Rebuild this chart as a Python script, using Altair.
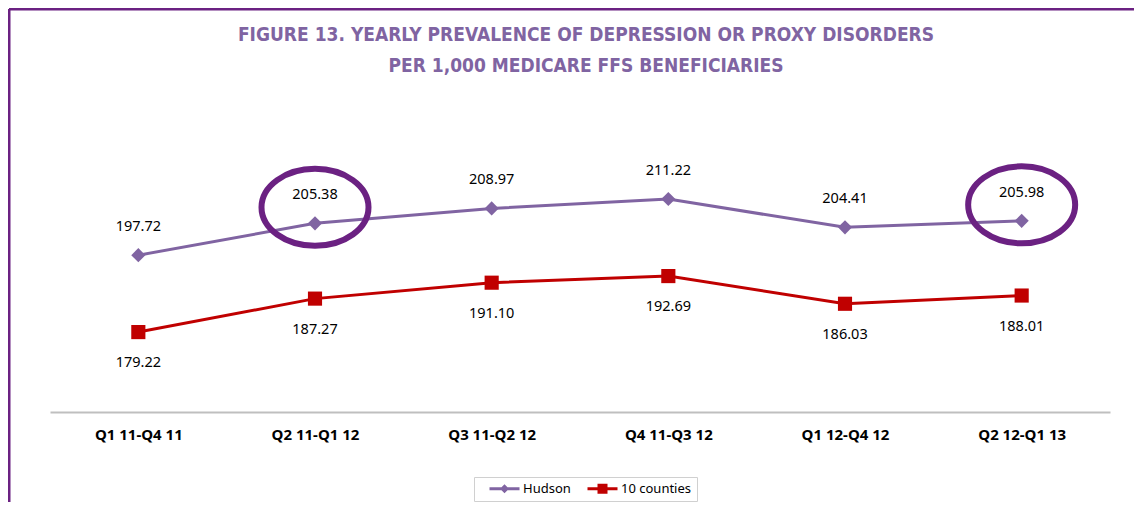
import altair as alt
import pandas as pd

categories = ["Q1 11-Q4 11", "Q2 11-Q1 12", "Q3 11-Q2 12", "Q4 11-Q3 12", "Q1 12-Q4 12", "Q2 12-Q1 13"]
hudson = [197.72, 205.38, 208.97, 211.22, 204.41, 205.98]
counties = [179.22, 187.27, 191.10, 192.69, 186.03, 188.01]
series_names = ["Hudson", "10 counties"]
highlighted = ["Q2 11-Q1 12", "Q2 12-Q1 13"]
title_lines = ["FIGURE 13. YEARLY PREVALENCE OF DEPRESSION OR PROXY DISORDERS",
               "PER 1,000 MEDICARE FFS BENEFICIARIES"]

rows = []
for c, h in zip(categories, hudson):
    rows.append({"period": c, "series": "Hudson", "value": h, "hl": c in highlighted})
for c, v in zip(categories, counties):
    rows.append({"period": c, "series": "10 counties", "value": v, "hl": False})
df = pd.DataFrame(rows)

W, H = 1060, 316
PAD = {"left": 42, "top": 88, "right": 24, "bottom": 90}

PURPLE = "#8064a2"
RED = "#c00000"
DARKP = "#6b2182"
FONT = "Noto Sans"

x_enc = alt.X("period:N", sort=categories,
              axis=alt.Axis(title=None, labelAngle=0, ticks=False, labelFontWeight="bold",
                            labelFontSize=15, labelColor="#000", labelFont=FONT,
                            labelPadding=15, domainColor="#bfbfbf", domainWidth=2,
                            grid=False))
y_enc = alt.Y("value:Q", scale=alt.Scale(domain=[160, 236], zero=False, nice=False), axis=None)

base = alt.Chart(df)
hud = base.transform_filter(alt.datum.series == "Hudson")
cty = base.transform_filter(alt.datum.series == "10 counties")

hud_line = hud.mark_line(strokeWidth=3, color=PURPLE).encode(x=x_enc, y=y_enc)
cty_line = cty.mark_line(strokeWidth=3, color=RED).encode(x=x_enc, y=y_enc)

hud_pts = hud.mark_point(shape="diamond", filled=True, size=200, opacity=1,
                         color=PURPLE).encode(x=x_enc, y=y_enc)
cty_pts = cty.mark_point(shape="square", filled=True, size=200, opacity=1,
                         color=RED).encode(x=x_enc, y=y_enc)

hud_txt = hud.mark_text(dy=-28, fontSize=14.5, font=FONT, color="#000").encode(
    x=x_enc, y=y_enc, text=alt.Text("value:Q", format=".2f"))
cty_txt = cty.mark_text(dy=31, fontSize=14.5, font=FONT, color="#000").encode(
    x=x_enc, y=y_enc, text=alt.Text("value:Q", format=".2f"))

ellipse_path = "M-1,0A1,0.72 0 1,1 1,0A1,0.72 0 1,1 -1,0Z"
ellipses = base.transform_filter(alt.datum.hl).mark_point(
    shape=ellipse_path, filled=False, size=11449, strokeWidth=6, color=DARKP,
    opacity=1, yOffset=-16).encode(x=x_enc, y=y_enc)

# legend symbols: a 30px line with a marker, drawn at unit = 5px (symbolSize 100)
hud_sym = "M-1,-0.3L5,-0.3L5,0.3L-1,0.3ZM2,-0.9L2.9,0L2,0.9L1.1,0Z"
cty_sym = "M-1,-0.3L5,-0.3L5,0.3L-1,0.3ZM1,-1L3,-1L3,1L1,1Z"
leg = alt.Legend(title=None, orient="none", legendX=424, legendY=381, direction="horizontal",
                 symbolSize=100, symbolStrokeWidth=0, labelFontSize=13, labelFont=FONT,
                 labelColor="#000", strokeColor="#d0d0d0", fillColor="white", padding=5,
                 columnPadding=6, labelOffset=22, symbolOffset=9)
legend_layer = base.transform_filter("false").mark_point(filled=True, size=100, opacity=1).encode(
    x=x_enc, y=y_enc,
    color=alt.Color("series:N", scale=alt.Scale(domain=series_names, range=[PURPLE, RED]),
                    legend=leg),
    shape=alt.Shape("series:N", scale=alt.Scale(domain=series_names, range=[hud_sym, cty_sym]),
                    legend=leg))

frame_df = pd.DataFrame({"f": [0]})
top_rule = alt.Chart(frame_df).mark_rule(color=DARKP, strokeWidth=3).encode(
    x=alt.value(-41), x2=alt.value(W + 30), y=alt.value(-87))
left_rule = alt.Chart(frame_df).mark_rule(color=DARKP, strokeWidth=3).encode(
    x=alt.value(-41), y=alt.value(-87), y2=alt.value(H + 100))

chart = alt.layer(
    top_rule, left_rule, hud_line, cty_line, hud_pts, cty_pts, hud_txt, cty_txt,
    ellipses, legend_layer
).properties(
    width=W, height=H,
    title=alt.TitleParams(text=title_lines, font="DejaVu Sans Condensed", fontSize=19,
                          fontWeight="bold", color=PURPLE, lineHeight=31, anchor="middle",
                          offset=-68, dx=6),
    padding=PAD, autosize=alt.AutoSizeParams(type="none")
).configure_view(stroke=None)

chart.save("out.html", embed_options={"renderer": "svg", "actions": False})
